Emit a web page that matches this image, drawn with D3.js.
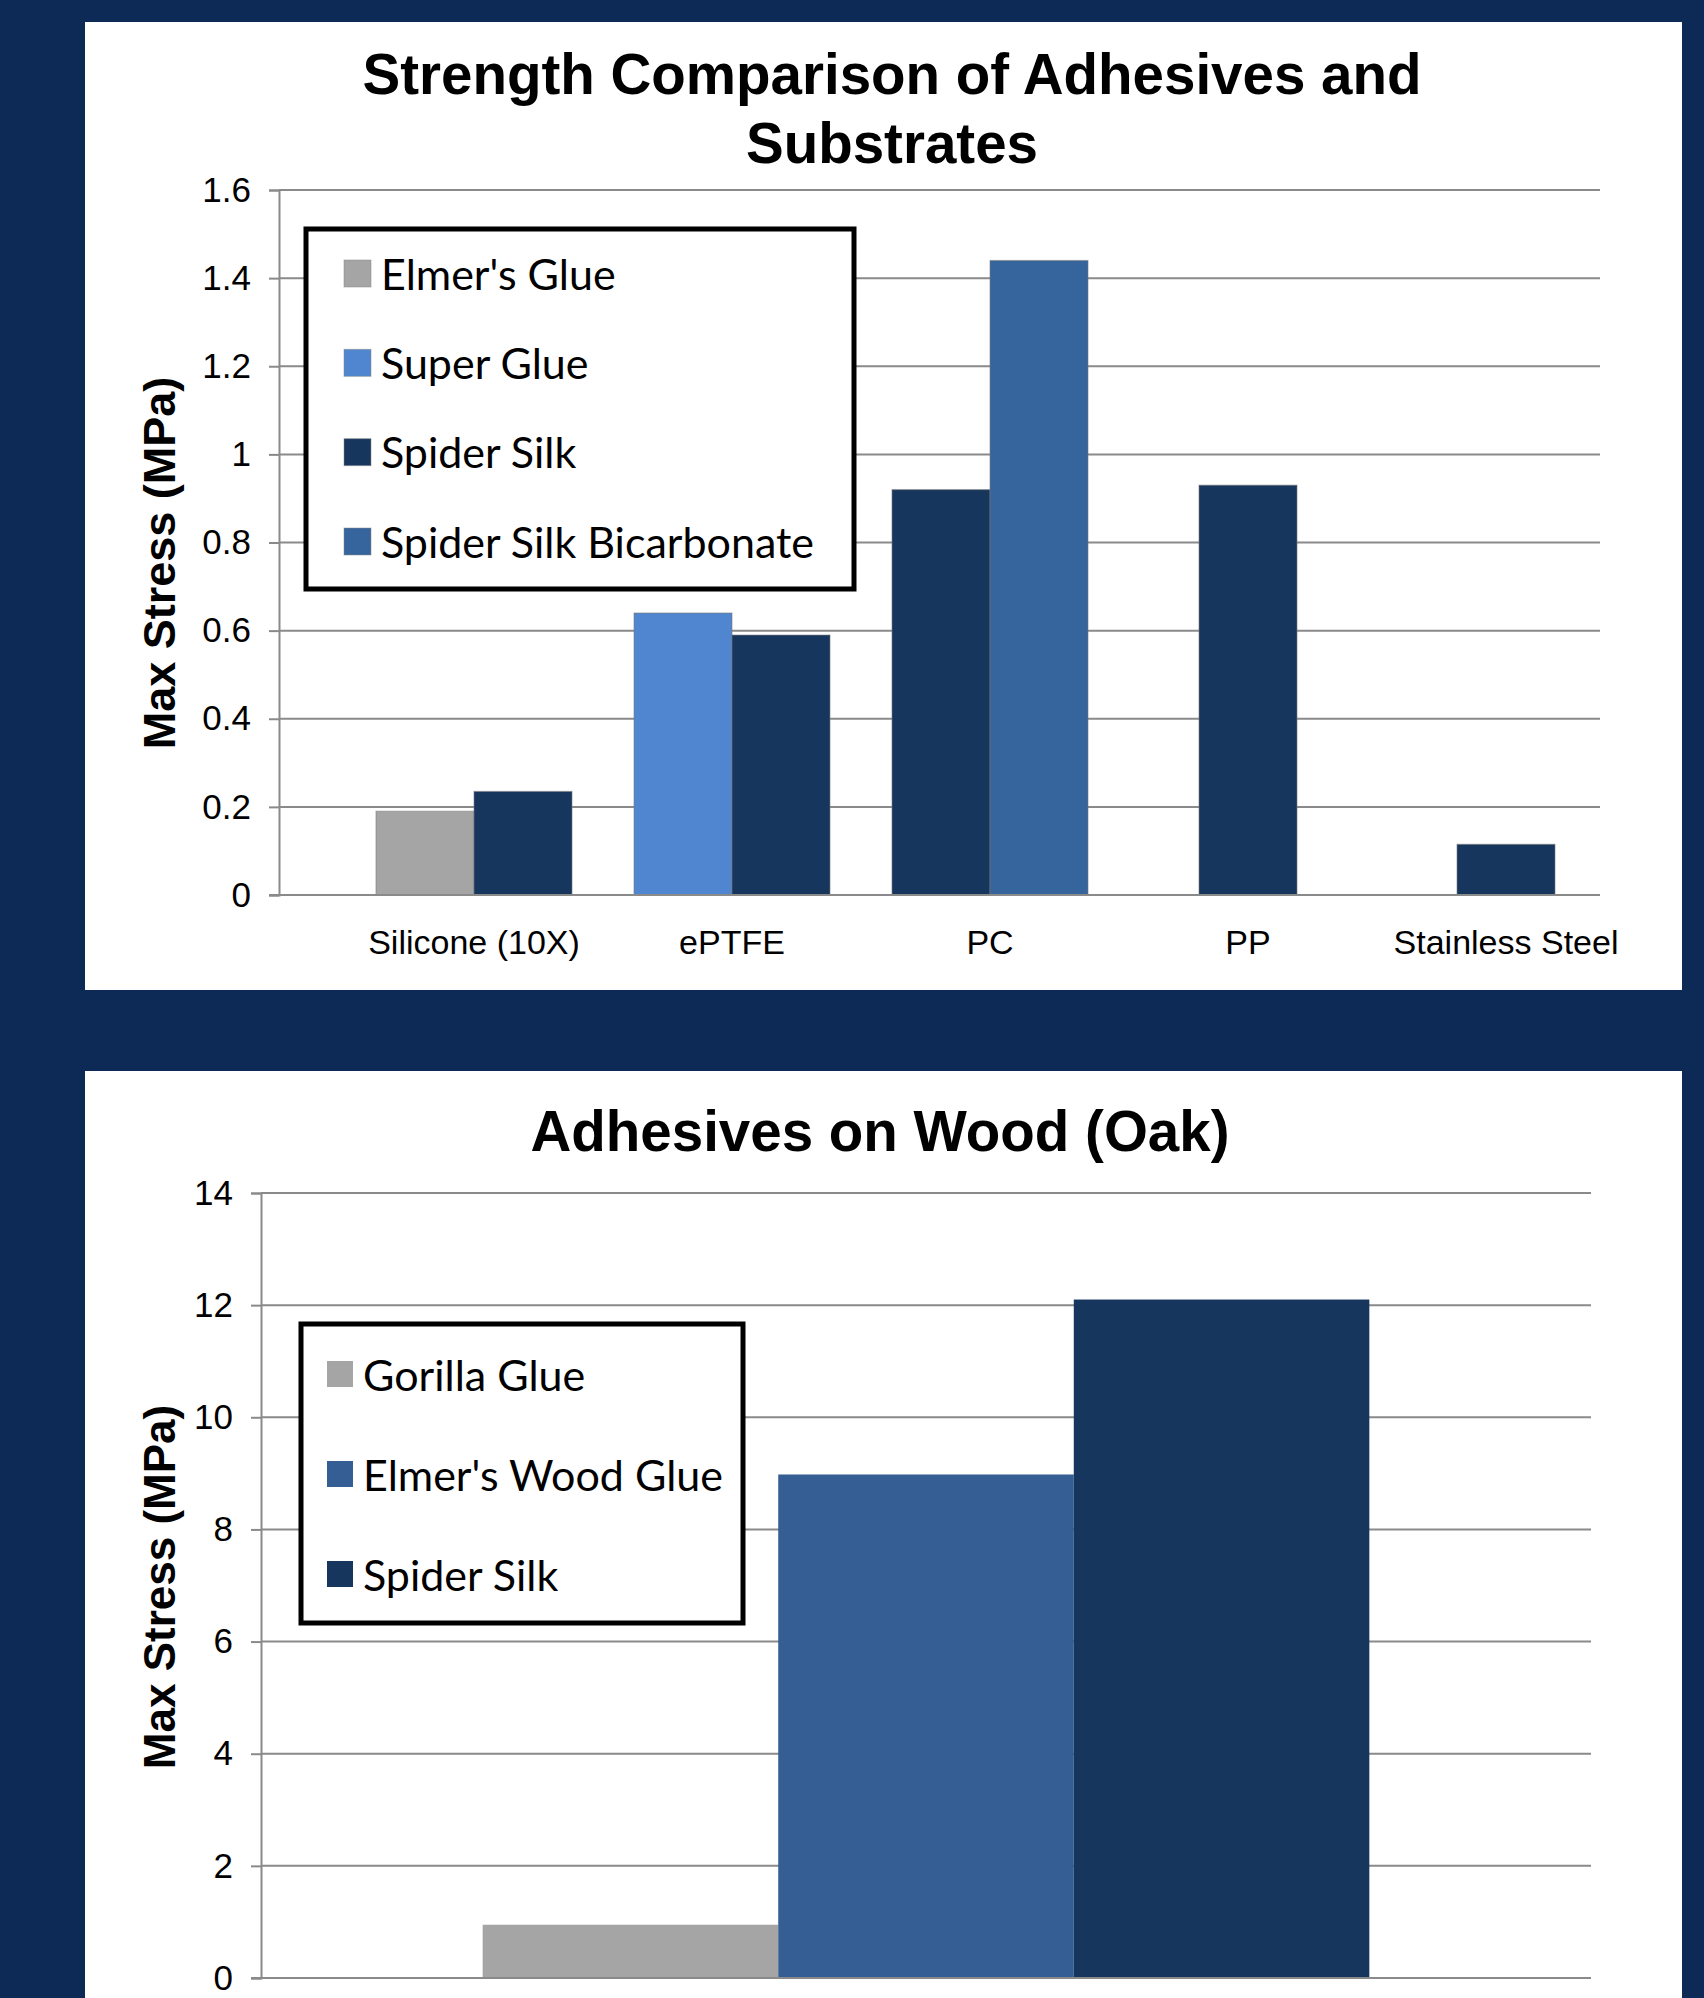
<!DOCTYPE html>
<html>
<head>
<meta charset="utf-8">
<script src="https://cdn.jsdelivr.net/npm/d3@7"></script>
<style>
  html, body { margin: 0; padding: 0; background: #0c2a55; }
  svg { display: block; }
</style>
</head>
<body>
<svg id="chart" width="1704" height="1998"></svg>
<script>
// ---------- Chart 1 data ----------
const substrates = ["Silicone (10X)", "ePTFE", "PC", "PP", "Stainless Steel"];
const adhesives1 = ["Elmer's Glue", "Super Glue", "Spider Silk", "Spider Silk Bicarbonate"];
const elmersGlue = [0.19, null, null, null, null];
const superGlue = [null, 0.64, null, null, null];
const spiderSilk1 = [0.235, 0.59, 0.92, 0.93, 0.115];
const spiderSilkBicarbonate = [null, null, 1.44, null, null];
const yTicks1 = [0, 0.2, 0.4, 0.6, 0.8, 1, 1.2, 1.4, 1.6];
const colors1 = ["#a5a5a5", "#4f86cf", "#17365d", "#36649c"];

// ---------- Chart 2 data ----------
const woodCategory = ["Wood (Oak)"];
const adhesives2 = ["Gorilla Glue", "Elmer's Wood Glue", "Spider Silk"];
const woodValues = [0.95, 8.98, 12.1];
const yTicks2 = [0, 2, 4, 6, 8, 10, 12, 14];
const colors2 = ["#a5a5a5", "#355f94", "#17365d"];

const svg = d3.select("#chart");
const gridColor = "#8a8a8a";

// Panels
svg.append("rect").attr("x", 85).attr("y", 22).attr("width", 1597).attr("height", 968).attr("fill", "#ffffff");
svg.append("rect").attr("x", 85).attr("y", 1071).attr("width", 1597).attr("height", 940).attr("fill", "#ffffff");

// ================= Chart 1 =================
(function () {
  const g = svg.append("g");
  const left = 279, right = 1600, top = 190, bottom = 895;
  const y = d3.scaleLinear().domain([0, 1.6]).range([bottom, top]);
  const x = d3.scaleBand().domain(substrates).range([345, 1635]).padding(0);
  const barW = 98;

  // Title
  const title = g.append("text").attr("x", 892).attr("text-anchor", "middle")
    .attr("font-family", "Liberation Sans, Arial, sans-serif").attr("font-weight", "bold")
    .attr("font-size", 56.5).attr("fill", "#000");
  title.append("tspan").attr("x", 892).attr("y", 94).text("Strength Comparison of Adhesives and");
  title.append("tspan").attr("x", 892).attr("y", 163).text("Substrates");

  // Gridlines
  g.append("g").selectAll("line").data(yTicks1.filter(d => d > 0)).join("line")
    .attr("x1", left).attr("x2", right)
    .attr("y1", d => y(d)).attr("y2", d => y(d))
    .attr("stroke", gridColor).attr("stroke-width", 2);

  // Bars
  const seriesVals = [elmersGlue, superGlue, spiderSilk1, spiderSilkBicarbonate];
  substrates.forEach((cat, ci) => {
    const present = adhesives1.map((s, si) => ({ s, si, v: seriesVals[si][ci] })).filter(d => d.v != null);
    const cx = x(cat) + x.bandwidth() / 2;
    const inner = d3.scaleBand().domain(present.map(d => d.s))
      .range([cx - present.length * barW / 2, cx + present.length * barW / 2]);
    g.append("g").selectAll("rect").data(present).join("rect")
      .attr("x", d => inner(d.s)).attr("width", inner.bandwidth())
      .attr("y", d => y(d.v)).attr("height", d => y(0) - y(d.v))
      .attr("fill", d => colors1[d.si])
      .attr("stroke", "#7a7a7a").attr("stroke-opacity", 0.5).attr("stroke-width", 1.2);
  });

  // Y axis
  const yAxis = d3.axisLeft(y).tickValues(yTicks1).tickSize(10).tickPadding(18)
    .tickFormat(d => d3.format("")(+d.toFixed(1)));
  const ya = g.append("g").attr("transform", `translate(${left},0)`).call(yAxis);
  ya.select(".domain").attr("stroke", gridColor).attr("stroke-width", 2);
  ya.selectAll(".tick line").attr("stroke", gridColor).attr("stroke-width", 2);
  ya.selectAll(".tick text").attr("font-family", "Liberation Sans, Arial, sans-serif")
    .attr("font-size", 35).attr("fill", "#000");

  // Baseline
  g.append("line").attr("x1", left - 10).attr("x2", right).attr("y1", y(0)).attr("y2", y(0))
    .attr("stroke", gridColor).attr("stroke-width", 2);

  // X labels
  g.append("g").selectAll("text").data(substrates).join("text")
    .attr("x", d => x(d) + x.bandwidth() / 2).attr("y", 954)
    .attr("text-anchor", "middle").attr("font-family", "Liberation Sans, Arial, sans-serif")
    .attr("font-size", 34).attr("fill", "#000").text(d => d);

  // Y title
  g.append("text").attr("transform", "translate(159,563) rotate(-90)")
    .attr("text-anchor", "middle").attr("dominant-baseline", "central")
    .attr("font-family", "Liberation Sans, Arial, sans-serif").attr("font-weight", "bold")
    .attr("font-size", 45).attr("fill", "#000").text("Max Stress (MPa)");

  // Legend
  const lg = g.append("g");
  lg.append("rect").attr("x", 306).attr("y", 229).attr("width", 548).attr("height", 360)
    .attr("fill", "#fff").attr("stroke", "#000").attr("stroke-width", 5);
  const ly = d3.scalePoint().domain(adhesives1).range([273, 541]);
  const items = lg.selectAll("g").data(adhesives1).join("g")
    .attr("transform", d => `translate(0,${ly(d)})`);
  items.append("rect").attr("x", 344).attr("y", -13).attr("width", 27).attr("height", 27)
    .attr("fill", (d, i) => colors1[i]).attr("stroke", "#888").attr("stroke-opacity", 0.5);
  items.append("text").attr("x", 381).attr("y", 0).attr("dominant-baseline", "central")
    .attr("font-family", "Lato, 'Open Sans', sans-serif").attr("font-size", 43)
    .attr("fill", "#000").text(d => d);
})();

// ================= Chart 2 =================
(function () {
  const g = svg.append("g");
  const left = 261, right = 1591, top = 1193, bottom = 1978;
  const y = d3.scaleLinear().domain([0, 14]).range([bottom, top]);
  const x0 = d3.scaleBand().domain(woodCategory).range([left, right]).paddingOuter(0.25).paddingInner(0);
  const x1 = d3.scaleBand().domain(adhesives2).range([0, x0.bandwidth()]);

  g.append("text").attr("x", 880).attr("y", 1151).attr("text-anchor", "middle")
    .attr("font-family", "Liberation Sans, Arial, sans-serif").attr("font-weight", "bold")
    .attr("font-size", 56.5).attr("fill", "#000").text("Adhesives on Wood (Oak)");

  g.append("g").selectAll("line").data(yTicks2.filter(d => d > 0)).join("line")
    .attr("x1", left).attr("x2", right)
    .attr("y1", d => y(d)).attr("y2", d => y(d))
    .attr("stroke", gridColor).attr("stroke-width", 2);

  g.append("g").selectAll("rect").data(adhesives2.map((s, i) => ({ s, i, v: woodValues[i] }))).join("rect")
    .attr("x", d => x0(woodCategory[0]) + x1(d.s)).attr("width", x1.bandwidth())
    .attr("y", d => y(d.v)).attr("height", d => y(0) - y(d.v))
    .attr("fill", d => colors2[d.i]);

  const yAxis = d3.axisLeft(y).tickValues(yTicks2).tickSize(10).tickPadding(18);
  const ya = g.append("g").attr("transform", `translate(${left},0)`).call(yAxis);
  ya.select(".domain").attr("stroke", gridColor).attr("stroke-width", 2);
  ya.selectAll(".tick line").attr("stroke", gridColor).attr("stroke-width", 2);
  ya.selectAll(".tick text").attr("font-family", "Liberation Sans, Arial, sans-serif")
    .attr("font-size", 35).attr("fill", "#000");

  g.append("line").attr("x1", left - 10).attr("x2", right).attr("y1", y(0)).attr("y2", y(0))
    .attr("stroke", gridColor).attr("stroke-width", 2);

  g.append("text").attr("transform", "translate(159,1587) rotate(-90)")
    .attr("text-anchor", "middle").attr("dominant-baseline", "central")
    .attr("font-family", "Liberation Sans, Arial, sans-serif").attr("font-weight", "bold")
    .attr("font-size", 44).attr("fill", "#000").text("Max Stress (MPa)");

  const lg = g.append("g");
  lg.append("rect").attr("x", 301).attr("y", 1324).attr("width", 442).attr("height", 299)
    .attr("fill", "#fff").attr("stroke", "#000").attr("stroke-width", 5);
  const ly = d3.scalePoint().domain(adhesives2).range([1374, 1574]);
  const items = lg.selectAll("g").data(adhesives2).join("g")
    .attr("transform", d => `translate(0,${ly(d)})`);
  items.append("rect").attr("x", 327).attr("y", -13).attr("width", 26).attr("height", 26)
    .attr("fill", (d, i) => colors2[i]);
  items.append("text").attr("x", 363).attr("y", 0).attr("dominant-baseline", "central")
    .attr("font-family", "Lato, 'Open Sans', sans-serif").attr("font-size", 43)
    .attr("fill", "#000").text(d => d);
})();
</script>
</body>
</html>
